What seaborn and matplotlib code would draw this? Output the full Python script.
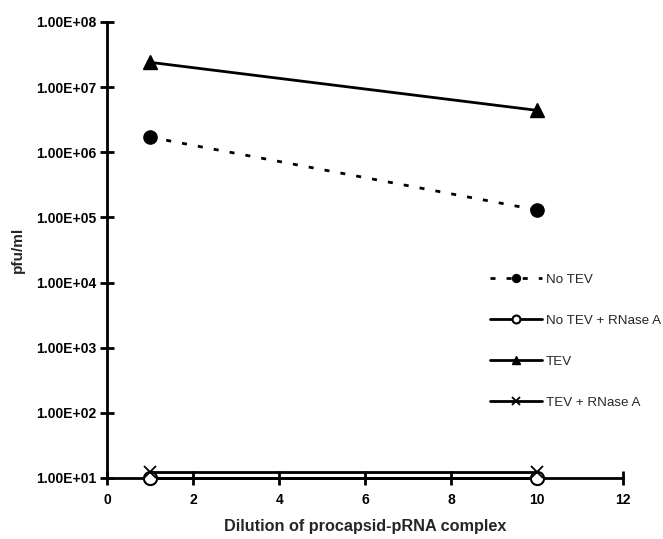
import numpy as np
import pandas as pd
import matplotlib
matplotlib.use('Agg')
import matplotlib.pyplot as plt
import seaborn as sns
from matplotlib.ticker import FuncFormatter

# Data
dilution = [1, 10]
no_tev = [1.7e6, 1.3e5]
no_tev_rnase = [10, 10]
tev = [2.4e7, 4.4e6]
tev_rnase = [12.5, 12.5]

series_names = ["No TEV", "No TEV + RNase A", "TEV", "TEV + RNase A"]
series_values = [no_tev, no_tev_rnase, tev, tev_rnase]

sns.set_style("white")
plt.rcParams['font.family'] = ['Liberation Sans', 'DejaVu Sans']

fig = plt.figure(figsize=(6.63, 5.39), dpi=100)
ax = fig.add_axes([0.162, 0.1132, 0.7777, 0.8460])

styles = {
    "No TEV": dict(marker='o', markersize=9.5, markerfacecolor='black', markeredgewidth=1,
                   linestyle=(0, (1.8, 4)), linewidth=2),
    "No TEV + RNase A": dict(marker='o', markersize=9.5, markerfacecolor='white', markeredgewidth=1.5,
                             linestyle='-', linewidth=2),
    "TEV": dict(marker='^', markersize=9.5, markerfacecolor='black', markeredgewidth=1,
                linestyle='-', linewidth=2),
    "TEV + RNase A": dict(marker='x', markersize=8.5, markeredgewidth=1.3, linestyle='-', linewidth=2),
}

for name, vals in zip(series_names, series_values):
    st = styles[name]
    sns.lineplot(x=dilution, y=vals, ax=ax, color='black', markeredgecolor='black',
                 label=name, clip_on=False, zorder=3, **st)

ax.set_yscale('log')
ax.set_ylim(10, 1e8)
ax.set_xlim(0, 12)
ax.set_xticks([0, 2, 4, 6, 8, 10, 12])
ax.set_yticks([10 ** k for k in range(1, 9)])
ax.yaxis.set_minor_locator(matplotlib.ticker.NullLocator())
ax.yaxis.set_major_formatter(FuncFormatter(lambda v, p: "1.00E+%02d" % round(np.log10(v))))

for s in ['top', 'right']:
    ax.spines[s].set_visible(False)
for s in ['left', 'bottom']:
    ax.spines[s].set_linewidth(2)
    ax.spines[s].set_color('black')

ax.tick_params(axis='both', which='major', left=True, bottom=True, direction='inout',
               length=10, width=2, colors='black', labelsize=10)
ax.tick_params(axis='x', pad=6)
ax.tick_params(axis='y', pad=3)
for lab in ax.get_xticklabels() + ax.get_yticklabels():
    lab.set_fontweight('bold')

ax.set_xlabel("Dilution of procapsid-pRNA complex", fontsize=11.7, fontweight='bold')
ax.xaxis.set_label_coords(0.5, -0.09)
ax.set_ylabel("pfu/ml", fontsize=11, fontweight='bold')
ax.yaxis.set_label_coords(-0.159, 0.5)

leg = ax.legend(loc='upper left', bbox_to_anchor=(0.742, 0.448), frameon=False,
                fontsize=9.6, handlelength=3.9, handletextpad=0.3, labelspacing=2.15,
                markerscale=0.6, borderpad=0, borderaxespad=0)

fig.savefig("out.png", dpi=100)
